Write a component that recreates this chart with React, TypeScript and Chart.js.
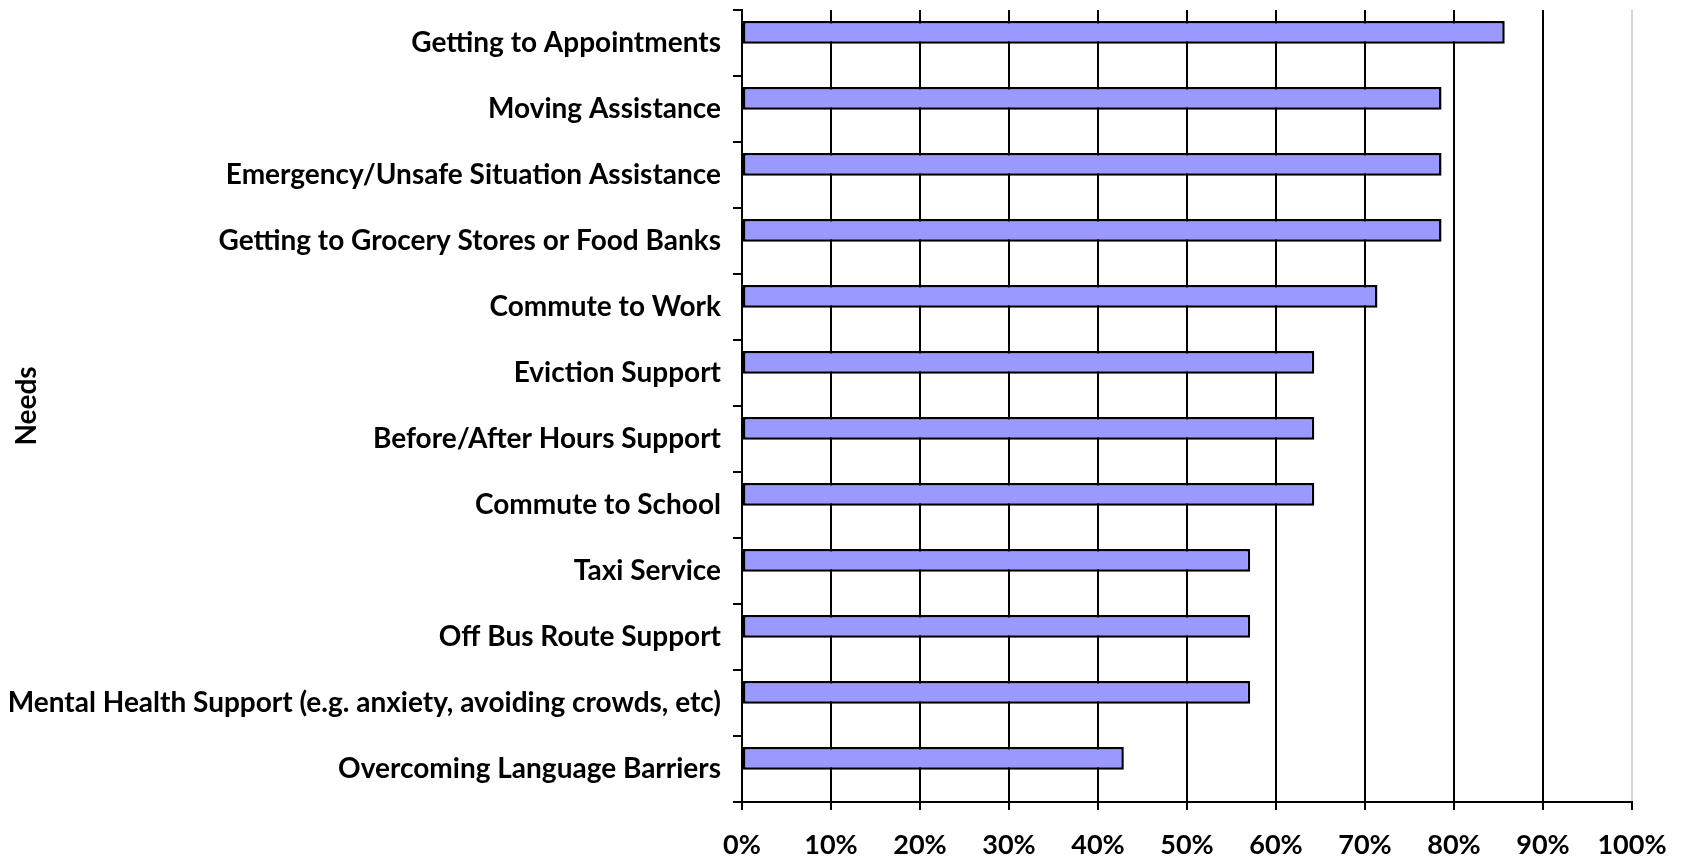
import React, { useEffect, useRef } from "react";
import { Chart, registerables } from "chart.js";

Chart.register(...registerables);

const categories: string[] = [
  "Getting to Appointments",
  "Moving Assistance",
  "Emergency/Unsafe Situation Assistance",
  "Getting to Grocery Stores or Food Banks",
  "Commute to Work",
  "Eviction Support",
  "Before/After Hours Support",
  "Commute to School",
  "Taxi Service",
  "Off Bus Route Support",
  "Mental Health Support (e.g. anxiety, avoiding crowds, etc)",
  "Overcoming Language Barriers",
];

const needsPct: number[] = [85.7, 78.6, 78.6, 78.6, 71.4, 64.3, 64.3, 64.3, 57.1, 57.1, 57.1, 42.9];
const emptySeries: (number | null)[] = categories.map(() => null);

const xTickValues: number[] = [0, 10, 20, 30, 40, 50, 60, 70, 80, 90, 100];
const yTitle = "Needs";

const FONT = "Lato";

export default function App() {
  const ref = useRef<HTMLCanvasElement | null>(null);

  useEffect(() => {
    if (!ref.current) return;
    const chart = new Chart(ref.current, {
      type: "bar",
      data: {
        labels: categories,
        datasets: [
          {
            label: "Needs",
            data: needsPct,
            backgroundColor: "#9999FF",
            borderColor: "#000000",
            borderWidth: 2.5,
            borderSkipped: false,
            categoryPercentage: 0.64,
            barPercentage: 1.08,
          },
          {
            label: "",
            data: emptySeries,
            backgroundColor: "#993366",
            categoryPercentage: 0.64,
            barPercentage: 1.08,
          },
        ],
      },
      options: {
        indexAxis: "y",
        responsive: false,
        animation: false,
        layout: { padding: { top: 10, right: 52, left: 0, bottom: 0 } },
        plugins: { legend: { display: false }, tooltip: { enabled: false } },
        scales: {
          x: {
            type: "linear",
            min: 0,
            max: 100,
            afterBuildTicks: (s: any) => {
              s.ticks = xTickValues.map((v) => ({ value: v }));
            },
            afterFit: (s: any) => {
              s.height = 56;
              s.paddingLeft = 0;
              s.paddingRight = 0;
            },
            ticks: {
              callback: (v: any) => `${v}%`,
              color: "#000",
              font: { family: FONT, size: 27, weight: "bold" },
              padding: 19,
              maxRotation: 0,
            },
            grid: {
              color: (ctx: any) => (ctx.tick && ctx.tick.value === 100 ? "#d4d4d4" : "#000"),
              tickColor: "#000",
              lineWidth: 2,
              tickLength: 8,
            },
            border: { display: true, color: "#000", width: 2 },
          },
          y: {
            type: "category",
            afterFit: (s: any) => {
              s.width = 742;
              s.paddingTop = 0;
              s.paddingBottom = 0;
            },
            ticks: {
              color: "#000",
              font: { family: FONT, size: 28, weight: "bold" },
              padding: 12,
              autoSkip: false,
            },
            grid: {
              offset: true,
              drawOnChartArea: false,
              drawTicks: true,
              tickLength: 9,
              color: "#000",
              lineWidth: 2,
            },
            border: { display: true, color: "#000", width: 2 },
            title: {
              display: true,
              text: yTitle,
              color: "#000",
              font: { family: FONT, size: 28, weight: "bold" },
              padding: { top: 10, bottom: 0 },
            },
          },
        },
      },
    });
    return () => chart.destroy();
  }, []);

  return (
    <div style={{ position: "absolute", left: 0, top: 0, width: 1684, height: 858, background: "#fff" }}>
      <canvas ref={ref} width={1684} height={858} />
    </div>
  );
}
